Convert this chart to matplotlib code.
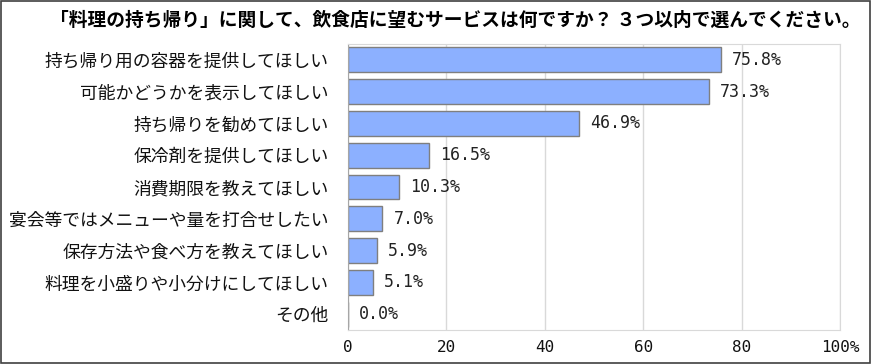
#horizontal bar chart of the survey results (takeout services wanted from restaurants)
import matplotlib
matplotlib.use('Agg')
import matplotlib.pyplot as plt
from matplotlib.patches import Rectangle

plt.rcParams['font.family'] = ['Noto Sans CJK JP', 'DejaVu Sans']

#survey answers, top to bottom as in the chart
categories = ['持ち帰り用の容器を提供してほしい',
              '可能かどうかを表示してほしい',
              '持ち帰りを勧めてほしい',
              '保冷剤を提供してほしい',
              '消費期限を教えてほしい',
              '宴会等ではメニューや量を打合せしたい',
              '保存方法や食べ方を教えてほしい',
              '料理を小盛りや小分けにしてほしい',
              'その他']
values = [75.8, 73.3, 46.9, 16.5, 10.3, 7.0, 5.9, 5.1, 0.0]
xticks = [0, 20, 40, 60, 80, 100]
xtick_labels = ['0', '20', '40', '60', '80', '100%']
title = '「料理の持ち帰り」に関して、飲食店に望むサービスは何ですか？ ３つ以内で選んでください。'

fig = plt.figure(figsize=(8.72, 3.64), dpi=100)
ax = fig.add_axes([348/872, 1 - 330/364, (840-348)/872, (330-44)/364])

pos = list(range(len(categories)))
ax.barh(pos, values, height=0.78, color='#8CB0FF', edgecolor='#7F7F7F', linewidth=1)
for p, v in zip(pos, values):
    ax.annotate('{:.1f}%'.format(v), (v, p), xytext=(8, 0), textcoords='offset points',
                va='center', ha='left', fontsize=12, family='DejaVu Sans Mono', color='#222222')

ax.set_ylim(len(categories) - 0.5, -0.5)
ax.set_xlim(0, 100)
ax.set_yticks(pos)
ax.set_yticklabels(categories, fontsize=12.8, color='#111111')
ax.set_xticks(xticks)
ax.set_xticklabels(xtick_labels, fontsize=11.5, family='DejaVu Sans Mono', color='#111111')
ax.tick_params(length=0, pad=7)
ax.tick_params(axis='y', pad=14)
ax.grid(axis='x', color='#D9D9D9', linewidth=1)
ax.set_axisbelow(True)
for s in ax.spines.values():
    s.set_color('#D9D9D9')
ax.spines['left'].set_color('#A6A6A6')

fig.text(0.522, 1 - 20/364, title, ha='center', va='center', fontsize=13.5, fontweight='bold')

#outer frame of the figure
fig.patches.append(Rectangle((0.001, 0.002), 0.997, 0.995, transform=fig.transFigure,
                             fill=False, edgecolor='#404040', linewidth=1.2))

fig.savefig('out.png', dpi=100)
